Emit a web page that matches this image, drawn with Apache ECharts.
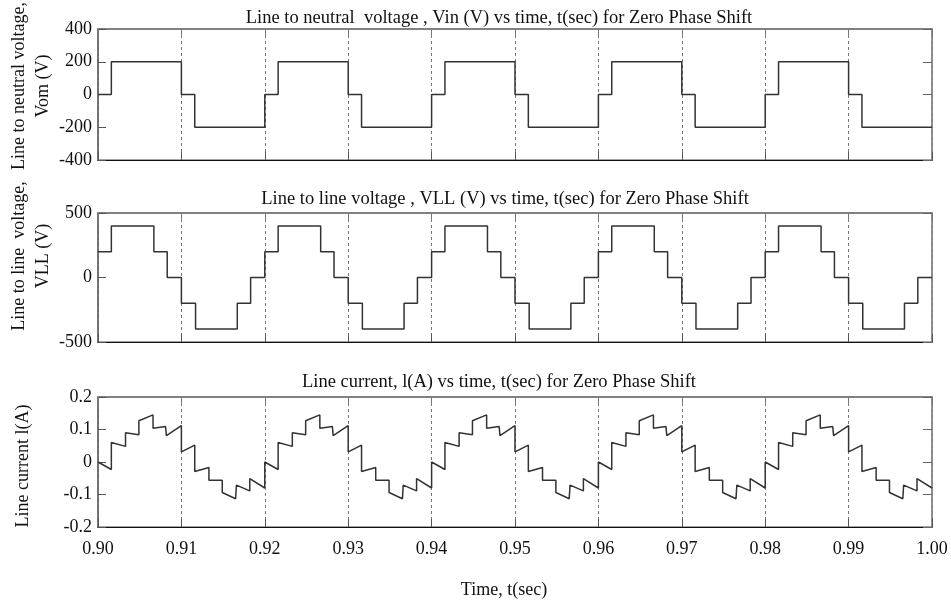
<!DOCTYPE html>
<html>
<head>
<meta charset="utf-8">
<script src="https://cdn.jsdelivr.net/npm/echarts@6.0.0/dist/echarts.min.js"></script>
<style>
  html, body { margin: 0; padding: 0; background: #fff; }
  #chart { width: 951px; height: 601px; }
</style>
</head>
<body>
<div id="chart"></div>
<script>
// each cycle of the waveforms is the same, read once from the picture (offsets in s)
const periodStarts = [0.90, 0.92, 0.94, 0.96, 0.98]
const endTime = 1.00
const timeTicks = ['0.90', '0.91', '0.92', '0.93', '0.94', '0.95', '0.96', '0.97', '0.98', '0.99', '1.00']

// line to neutral voltage: level held from each offset
const vinOffsets = [0, 0.0016, 0.0100, 0.0116]
const vinLevels = [0, 200, 0, -200]

// line to line voltage
const vllOffsets = [0, 0.0016, 0.0067, 0.0083, 0.0100, 0.0117, 0.0167, 0.0183]
const vllLevels = [200, 400, 200, 0, -200, -400, -200, 0]

// line current corner points (repeated offsets = vertical jumps)
const curOffsets = [0, 0.0016, 0.0016, 0.0033, 0.0033, 0.0049, 0.0049, 0.0066, 0.0066, 0.0081, 0.0082, 0.0100,
  0.0100, 0.0116, 0.0116, 0.0133, 0.0133, 0.0149, 0.0149, 0.0165, 0.0166, 0.0182, 0.0182, 0.0200]
const curValues = [0.000, -0.023, 0.060, 0.048, 0.090, 0.084, 0.127, 0.145, 0.104, 0.109, 0.081, 0.112,
  0.031, 0.052, -0.029, -0.017, -0.056, -0.056, -0.094, -0.113, -0.071, -0.089, -0.051, -0.080]

const tile = (offsets, values) => {
  const pts = []
  periodStarts.forEach(s => {
    offsets.forEach((o, i) => pts.push([+(s + o).toFixed(4), values[i]]))
  })
  return pts
}

const vinData = tile(vinOffsets, vinLevels)
vinData.push([endTime, vinLevels[vinLevels.length - 1]])
const vllData = tile(vllOffsets, vllLevels)
vllData.push([endTime, vllLevels[vllLevels.length - 1]])
const curData = tile(curOffsets, curValues)

const FONT = 'Liberation Serif'
const gridBase = { left: 98, right: 19, containLabel: false,
  show: true, borderColor: '#888', borderWidth: 1.5, backgroundColor: 'transparent' }
const grids = [
  { ...gridBase, top: 29, height: 131 },
  { ...gridBase, top: 213, height: 129 },
  { ...gridBase, top: 397, height: 130 }
]

const chart = echarts.init(document.getElementById('chart'))

const xAxes = []
const yAxes = []
grids.forEach((g, i) => {
  xAxes.push({
    type: 'value', gridIndex: i, position: 'bottom', min: 0.9, max: 1.0, interval: 0.01,
    axisLine: { show: true, onZero: false, lineStyle: { color: '#111', width: 1.2 } },
    axisTick: { show: true, inside: true, length: 8, lineStyle: { color: '#555' } },
    axisLabel: {
      show: i === 2, margin: 13, color: '#111', fontFamily: FONT, fontSize: 18,
      formatter: v => timeTicks[Math.round((v - 0.9) * 100)]
    },
    splitLine: { show: true, lineStyle: { color: '#777', type: [3, 3], width: 1 } },
    name: i === 2 ? 'Time, t(sec)' : '', nameLocation: 'middle', nameGap: 54,
    nameTextStyle: { color: '#111', fontFamily: FONT, fontSize: 18, padding: [0, 22, 0, 0] }
  })
  xAxes.push({
    type: 'value', gridIndex: i, position: 'top', min: 0.9, max: 1.0, interval: 0.01,
    axisLine: { show: true, onZero: false, lineStyle: { color: '#777', width: 1.5 } },
    axisTick: { show: true, inside: true, length: 8, lineStyle: { color: '#777' } },
    axisLabel: { show: false }, splitLine: { show: false }
  })
})

const yCfg = [
  { min: -400, max: 400, interval: 200, fmt: v => String(v) },
  { min: -500, max: 500, interval: 500, fmt: v => String(v) },
  { min: -0.2, max: 0.2, interval: 0.1, fmt: v => (Math.abs(v) < 1e-9 ? '0' : v.toFixed(1)) }
]
yCfg.forEach((c, i) => {
  yAxes.push({
    type: 'value', gridIndex: i, position: 'left', min: c.min, max: c.max, interval: c.interval,
    axisLine: { show: true, onZero: false, lineStyle: { color: '#666', width: 1.5 } },
    axisTick: { show: true, inside: true, length: 8, lineStyle: { color: '#555' } },
    axisLabel: { color: '#111', fontFamily: FONT, fontSize: 18, margin: 6, formatter: c.fmt },
    splitLine: { show: false }
  })
  yAxes.push({
    type: 'value', gridIndex: i, position: 'right', min: c.min, max: c.max, interval: c.interval,
    axisLine: { show: true, onZero: false, lineStyle: { color: '#888', width: 1.5 } },
    axisTick: { show: true, inside: true, length: 9, lineStyle: { color: '#666' } },
    axisLabel: { show: false }, splitLine: { show: false }
  })
})

// rotated y axis titles
const yNames = [
  { text: 'Line to neutral voltage,\nVom (V)', x: 31, y: 86 },
  { text: 'Line to line  voltage,\nVLL (V)', x: 31, y: 256 },
  { text: 'Line current l(A)', x: 23, y: 466 }
]

const titleStyle = { color: '#111', fontFamily: FONT, fontSize: 18.5, fontWeight: 'normal' }
const lineStyle = { color: '#333', width: 1.5 }

chart.setOption({
  animation: false,
  backgroundColor: '#fff',
  title: [
    { text: 'Line to neutral  voltage , Vin (V) vs time, t(sec) for Zero Phase Shift', left: 494, top: 4, textAlign: 'center', textStyle: titleStyle },
    { text: 'Line to line voltage , VLL (V) vs time, t(sec) for Zero Phase Shift', left: 500, top: 185, textAlign: 'center', textStyle: titleStyle },
    { text: 'Line current, l(A) vs time, t(sec) for Zero Phase Shift', left: 494, top: 368, textAlign: 'center', textStyle: titleStyle }
  ],
  graphic: yNames.map(n => ({
    type: 'text', x: n.x, y: n.y, rotation: Math.PI / 2, silent: true,
    style: { text: n.text, fill: '#111', font: '18px "Liberation Serif"', align: 'center', verticalAlign: 'middle', lineHeight: 24 }
  })),
  grid: grids,
  xAxis: xAxes,
  yAxis: yAxes,
  series: [
    { type: 'line', xAxisIndex: 0, yAxisIndex: 0, step: 'end', data: vinData, showSymbol: false, lineStyle },
    { type: 'line', xAxisIndex: 2, yAxisIndex: 2, step: 'end', data: vllData, showSymbol: false, lineStyle },
    { type: 'line', xAxisIndex: 4, yAxisIndex: 4, data: curData, showSymbol: false, lineStyle }
  ]
})
</script>
</body>
</html>
